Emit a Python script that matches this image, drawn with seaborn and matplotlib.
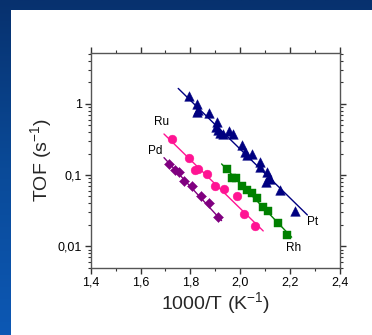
import numpy as np
import pandas as pd
import matplotlib
matplotlib.use("Agg")
import matplotlib.pyplot as plt
import matplotlib.ticker as mticker
from matplotlib.patches import Rectangle
import seaborn as sns

# ---- data ----
pt_x = [1.795, 1.828, 1.832, 1.825, 1.875, 1.905, 1.903, 1.909, 1.919, 1.932, 1.955, 1.971,
        2.006, 2.019, 2.026, 2.046, 2.079, 2.079, 2.108, 2.116, 2.103, 2.119, 2.159, 2.219]
pt_y = [1.28, 0.99, 0.82, 0.77, 0.73, 0.56, 0.475, 0.43, 0.39, 0.38, 0.41, 0.38,
        0.26, 0.21, 0.19, 0.197, 0.154, 0.13, 0.111, 0.095, 0.080, 0.087, 0.062, 0.031]
rh_x = [1.948, 1.966, 1.983, 2.006, 2.028, 2.048, 2.066, 2.090, 2.112, 2.153, 2.186]
rh_y = [0.120, 0.090, 0.092, 0.071, 0.062, 0.055, 0.048, 0.036, 0.031, 0.021, 0.0144]
ru_x = [1.727, 1.795, 1.818, 1.832, 1.868, 1.899, 1.935, 1.986, 2.016, 2.059]
ru_y = [0.32, 0.175, 0.117, 0.121, 0.102, 0.069, 0.063, 0.050, 0.028, 0.019]
pd_x = [1.715, 1.738, 1.755, 1.774, 1.808, 1.841, 1.876, 1.912]
pd_y = [0.141, 0.117, 0.109, 0.082, 0.070, 0.051, 0.040, 0.026]

# fitted lines (end points)
fit_pt_x = [1.751, 2.269]; fit_pt_y = [1.64, 0.0275]
fit_rh_x = [1.925, 2.206]; fit_rh_y = [0.143, 0.0134]
fit_ru_x = [1.694, 2.092]; fit_ru_y = [0.376, 0.0164]
fit_pd_x = [1.694, 1.925]; fit_pd_y = [0.175, 0.0229]

series = ["Pt", "Rh", "Ru", "Pd"]
xs = [pt_x, rh_x, ru_x, pd_x]
ys = [pt_y, rh_y, ru_y, pd_y]
fxs = [fit_pt_x, fit_rh_x, fit_ru_x, fit_pd_x]
fys = [fit_pt_y, fit_rh_y, fit_ru_y, fit_pd_y]
label_pos = {"Pt": (2.29, 0.022), "Rh": (2.213, 0.0094), "Ru": (1.683, 0.56), "Pd": (1.658, 0.22)}

xticks = [1.4, 1.6, 1.8, 2.0, 2.2, 2.4]
xticklabels = ["1,4", "1,6", "1,8", "2,0", "2,2", "2,4"]
yticks = [0.01, 0.1, 1]
yticklabels = ["0,01", "0,1", "1"]

colors = {"Pt": "#000080", "Rh": "#008000", "Ru": "#ff1493", "Pd": "#800080"}
markers = {"Pt": "^", "Rh": "s", "Ru": "o", "Pd": "D"}
sizes = {"Pt": 48, "Rh": 34, "Ru": 40, "Pd": 26}

pts = pd.DataFrame({
    "x": sum(xs, []), "y": sum(ys, []),
    "metal": sum([[s] * len(x) for s, x in zip(series, xs)], []),
})
fits = pd.DataFrame({
    "x": sum(fxs, []), "y": sum(fys, []),
    "metal": sum([[s] * len(x) for s, x in zip(series, fxs)], []),
})

sns.set_theme(style="white")
plt.rcParams['font.family'] = ['Liberation Sans', 'DejaVu Sans']

W, H = 372, 335
fig = plt.figure(figsize=(W / 100, H / 100), dpi=100)

# blue gradient background
bg = fig.add_axes([0, 0, 1, 1], zorder=-10)
grad = np.linspace(0, 1, 256).reshape(-1, 1)
from matplotlib.colors import LinearSegmentedColormap
cmap = LinearSegmentedColormap.from_list("bg", ["#07316e", "#0a4a98", "#0d58b4"])
bg.imshow(grad, aspect="auto", cmap=cmap, extent=[0, 1, 0, 1], origin="upper")
bg.add_patch(Rectangle((11 / W, 0), 1, 1 - 10 / H, transform=bg.transAxes,
                       facecolor="white", edgecolor="none"))
bg.set_xlim(0, 1); bg.set_ylim(0, 1)
bg.axis("off")

ax = fig.add_axes([90.7 / W, 1 - 267.7 / H, (340 - 90.7) / W, (267.7 - 52.7) / H])
ax.set_facecolor("white")

for s in series:
    sub = fits[fits.metal == s]
    sns.lineplot(data=sub, x="x", y="y", ax=ax, color=colors[s], linewidth=1.0,
                 legend=False, zorder=2)
for s in series:
    sub = pts[pts.metal == s]
    sns.scatterplot(data=sub, x="x", y="y", ax=ax, color=colors[s], marker=markers[s],
                    s=sizes[s], edgecolor=colors[s], linewidth=0.3, legend=False, zorder=3)

ax.set_yscale("log")
ax.set_xlim(1.4, 2.4)
ax.set_ylim(0.005, 5.2)
ax.set_xticks(xticks)
ax.set_xticklabels(xticklabels)
ax.set_yticks(yticks)
ax.set_yticklabels(yticklabels)
ax.xaxis.set_minor_locator(mticker.MultipleLocator(0.1))
ax.yaxis.set_minor_locator(mticker.LogLocator(base=10, subs=np.arange(2, 10)))
ax.yaxis.set_minor_formatter(mticker.NullFormatter())

for sp in ax.spines.values():
    sp.set_color("#555555")
    sp.set_linewidth(1.0)

ax.tick_params(axis="both", which="major", direction="out", length=4, width=1,
               color="#333333", labelsize=9, labelcolor="black", pad=2,
               bottom=True, left=True)
ax.tick_params(axis="both", which="minor", direction="out", length=2.5, width=0.8,
               color="#333333", bottom=True, left=True)
ax.tick_params(axis="both", which="both", top=True, right=True)
ax.tick_params(axis="x", which="both", top=True)
for t in ax.xaxis.get_ticklines(minor=False)[1::2] + ax.yaxis.get_ticklines(minor=False)[1::2]:
    pass

ax.set_xlabel("1000/T (K$^{\\mathregular{-1}}$)", fontsize=14, labelpad=2)
ax.set_ylabel("TOF (s$^{\\mathregular{-1}}$)", fontsize=14, labelpad=2)

for s in series:
    lx, ly = label_pos[s]
    ax.text(lx, ly, s, fontsize=8.5, ha="center", va="center", color="black")

fig.savefig("out.png", dpi=100)
